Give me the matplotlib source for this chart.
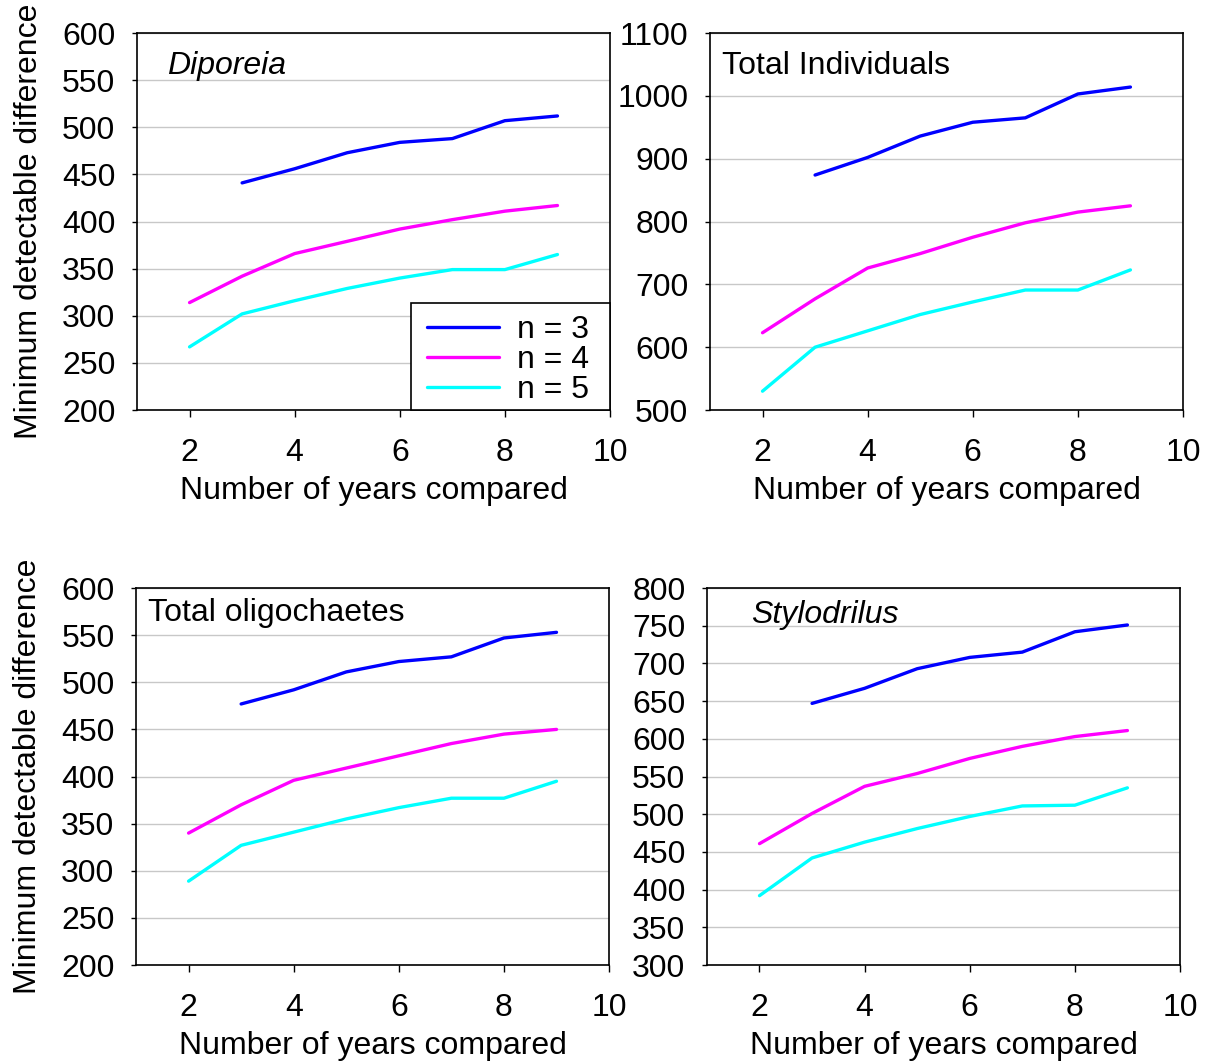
import numpy as np
import matplotlib
matplotlib.use("Agg")
import matplotlib.pyplot as plt
from matplotlib.patches import Rectangle

plt.rcParams['font.family'] = ['Liberation Sans', 'DejaVu Sans']

years = [2, 3, 4, 5, 6, 7, 8, 9]

# Diporeia
dip_n3 = [None, 441, 456, 473, 484, 488, 507, 512]
dip_n4 = [314, 342, 366, 379, 392, 402, 411, 417]
dip_n5 = [267, 302, 316, 329, 340, 349, 349, 365]

# Total Individuals
ind_n3 = [None, 874, 902, 936, 958, 965, 1003, 1014]
ind_n4 = [623, 677, 726, 749, 775, 798, 815, 825]
ind_n5 = [530, 600, 626, 652, 672, 691, 691, 723]

# Total oligochaetes
oli_n3 = [None, 477, 492, 511, 522, 527, 547, 553]
oli_n4 = [340, 370, 396, 409, 422, 435, 445, 450]
oli_n5 = [289, 327, 341, 355, 367, 377, 377, 395]

# Stylodrilus
sty_n3 = [None, 647, 667, 693, 708, 715, 742, 751]
sty_n4 = [461, 501, 537, 554, 574, 590, 603, 611]
sty_n5 = [392, 442, 463, 481, 497, 511, 512, 535]

labels = ['n = 3', 'n = 4', 'n = 5']
colors = ['#0000ff', '#ff00ff', '#00ffff']

fig = plt.figure(figsize=(12.07, 10.62), dpi=100)

panels = [
    # rect, title, italic, series, ylim, yticks, title pos
    ([0.1135, 0.6139, 0.3919, 0.355], 'Diporeia', True,
     [dip_n3, dip_n4, dip_n5], (200, 600), np.arange(200, 601, 50), (0.063, 0.912)),
    ([0.5882, 0.6139, 0.3919, 0.355], 'Total Individuals', False,
     [ind_n3, ind_n4, ind_n5], (500, 1100), np.arange(500, 1101, 100), (0.025, 0.912)),
    ([0.1127, 0.0913, 0.3919, 0.355], 'Total oligochaetes', False,
     [oli_n3, oli_n4, oli_n5], (200, 600), np.arange(200, 601, 50), (0.025, 0.935)),
    ([0.5857, 0.0913, 0.3919, 0.355], 'Stylodrilus', True,
     [sty_n3, sty_n4, sty_n5], (300, 800), np.arange(300, 801, 50), (0.093, 0.928)),
]

FS = 23

for i, (rect, title, italic, series, ylim, yticks, tpos) in enumerate(panels):
    ax = fig.add_axes(rect)
    for s, c, lab in zip(series, colors, labels):
        xs = [x for x, v in zip(years, s) if v is not None]
        ys = [v for v in s if v is not None]
        ax.plot(xs, ys, color=c, lw=2.4, label=lab, solid_capstyle='round')
    ax.set_xlim(1, 10)
    ax.set_ylim(*ylim)
    ax.set_xticks([2, 4, 6, 8, 10])
    ax.set_yticks(yticks)
    ax.yaxis.grid(True, color='#c8c8c8', lw=1)
    ax.set_axisbelow(True)
    ax.tick_params(labelsize=FS, width=1, direction='out')
    ax.tick_params(axis='x', length=5, pad=15)
    ax.tick_params(axis='y', length=3.5, pad=12)
    for sp in ax.spines.values():
        sp.set_linewidth(1.2)
        sp.set_color('black')
    ax.set_xlabel('Number of years compared', fontsize=FS, labelpad=6)
    if i % 2 == 0:
        ax.set_ylabel('Minimum detectable difference', fontsize=FS, labelpad=13)
    ax.text(tpos[0], tpos[1], title, transform=ax.transAxes, fontsize=FS,
            style='italic' if italic else 'normal', va='center')
    if i == 0:
        ax.add_patch(Rectangle((0.579, 0.0), 0.421, 0.284, transform=ax.transAxes,
                               facecolor='white', edgecolor='black', lw=1.2,
                               zorder=4, clip_on=False))
        leg = ax.legend(loc='center', bbox_to_anchor=(0.784, 0.132), fontsize=FS,
                        frameon=False, borderaxespad=0, handlelength=2.25,
                        labelspacing=0.0, handletextpad=0.55, borderpad=0.0)
        leg.set_zorder(5)

plt.savefig('out.png', dpi=100)
